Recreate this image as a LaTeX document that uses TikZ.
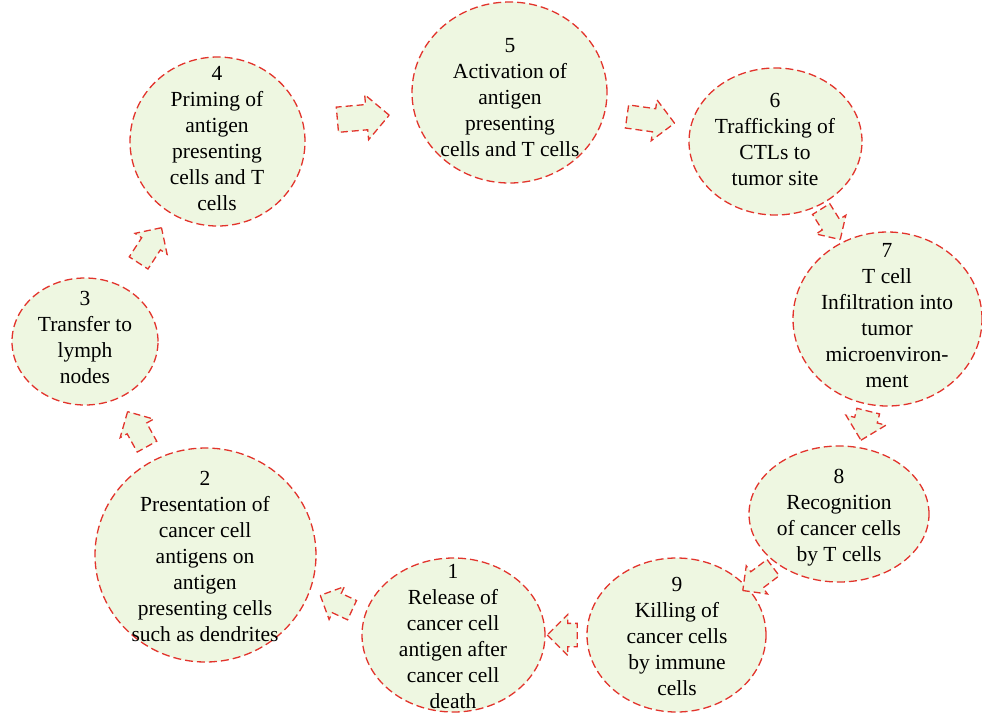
\documentclass[tikz,border=0pt]{standalone}
\usepackage{fontspec}
\setmainfont{Liberation Serif}
\usetikzlibrary{shapes.arrows, shapes.geometric, positioning}
\definecolor{cellfill}{RGB}{238,247,225}
\definecolor{cellline}{RGB}{226,52,44}
\tikzset{
  cell/.style={ellipse, draw=cellline, fill=cellfill, line width=1.3pt,
    dash pattern=on 8pt off 4pt, inner sep=0pt},
  celltext/.style={align=center, inner sep=0pt, font=\fontsize{21.5}{26}\selectfont},
  flow/.style 2 args={single arrow, draw=cellline, fill=cellfill, line width=1.3pt,
    dash pattern=on 7pt off 4pt, inner xsep=0pt, inner ysep=#1,
    single arrow head extend=#2},
}

\begin{document}
\begin{tikzpicture}[x=1pt,y=-1pt]
	\useasboundingbox (0,0) rectangle (982,713);

	% the nine steps
	\node[cell, minimum width=183pt, minimum height=154pt] (c1) at (453.5,635) {};
	\node[cell, minimum width=221pt, minimum height=214pt] (c2) at (205.5,555) {};
	\node[cell, minimum width=146pt, minimum height=127pt] (c3) at (85,341.5) {};
	\node[cell, minimum width=175pt, minimum height=169pt] (c4) at (217.5,141.5) {};
	\node[cell, minimum width=195pt, minimum height=181pt] (c5) at (509.5,92.5) {};
	\node[cell, minimum width=173pt, minimum height=147pt] (c6) at (775.5,141.5) {};
	\node[cell, minimum width=189pt, minimum height=174pt] (c7) at (887.5,319) {};
	\node[cell, minimum width=180pt, minimum height=136pt] (c8) at (839,514) {};
	\node[cell, minimum width=179pt, minimum height=154pt] (c9) at (676.5,635) {};

	\node[celltext] (t1) at (453,636) {1\\Release of\\cancer cell\\antigen after\\cancer cell\\death};
	\node[celltext] (t2) at (205,556) {2\\Presentation of\\cancer cell\\antigens on\\antigen\\presenting cells\\such as dendrites};
	\node[celltext] (t3) at (85,337) {3\\Transfer to\\lymph\\nodes};
	\node[celltext] (t4) at (217,139) {4\\Priming of\\antigen\\presenting\\cells and T\\cells};
	\node[celltext] (t5) at (510,98) {5\\Activation of\\antigen\\presenting\\cells and T cells};
	\node[celltext] (t6) at (775,139) {6\\Trafficking of\\CTLs to\\tumor site};
	\node[celltext] (t7) at (887,316) {7\\T cell\\Infiltration into\\tumor\\microenviron-\\ment};
	\node[celltext] (t8) at (839,518) {8\\Recognition\\of cancer cells\\by T cells};
	\node[celltext] (t9) at (677,636) {9\\Killing of\\cancer cells\\by immune\\cells};

	% block arrows between the steps (height = length, width = across)
	\node[flow={10pt}{7.5pt}, minimum height=35pt, minimum width=35pt, rotate=155] (a12) at (341,605) {};
	\node[flow={10.5pt}{8pt}, minimum height=40pt, minimum width=38pt, rotate=119] (a23) at (140,434) {};
	\node[flow={10.5pt}{8pt}, minimum height=42pt, minimum width=38pt, rotate=57] (a34) at (147,250) {};
	\node[flow={12pt}{10pt}, minimum height=52pt, minimum width=45pt, rotate=5] (a45) at (357,118) {};
	\node[flow={11pt}{9pt}, minimum height=48pt, minimum width=40pt, rotate=-8] (a56) at (645,119) {};
	\node[flow={9.5pt}{7.5pt}, minimum height=36pt, minimum width=34pt, rotate=-58] (a67) at (828,220) {};
	\node[flow={11pt}{9pt}, minimum height=30pt, minimum width=40pt, rotate=-104] (a78) at (866,420) {};
	\node[flow={9.5pt}{7.5pt}, minimum height=38pt, minimum width=34pt, rotate=-143] (a89) at (762,576) {};
	\node[flow={11pt}{9pt}, minimum height=30pt, minimum width=40pt, rotate=180] (a91) at (568,635) {};
\end{tikzpicture}
\end{document}
